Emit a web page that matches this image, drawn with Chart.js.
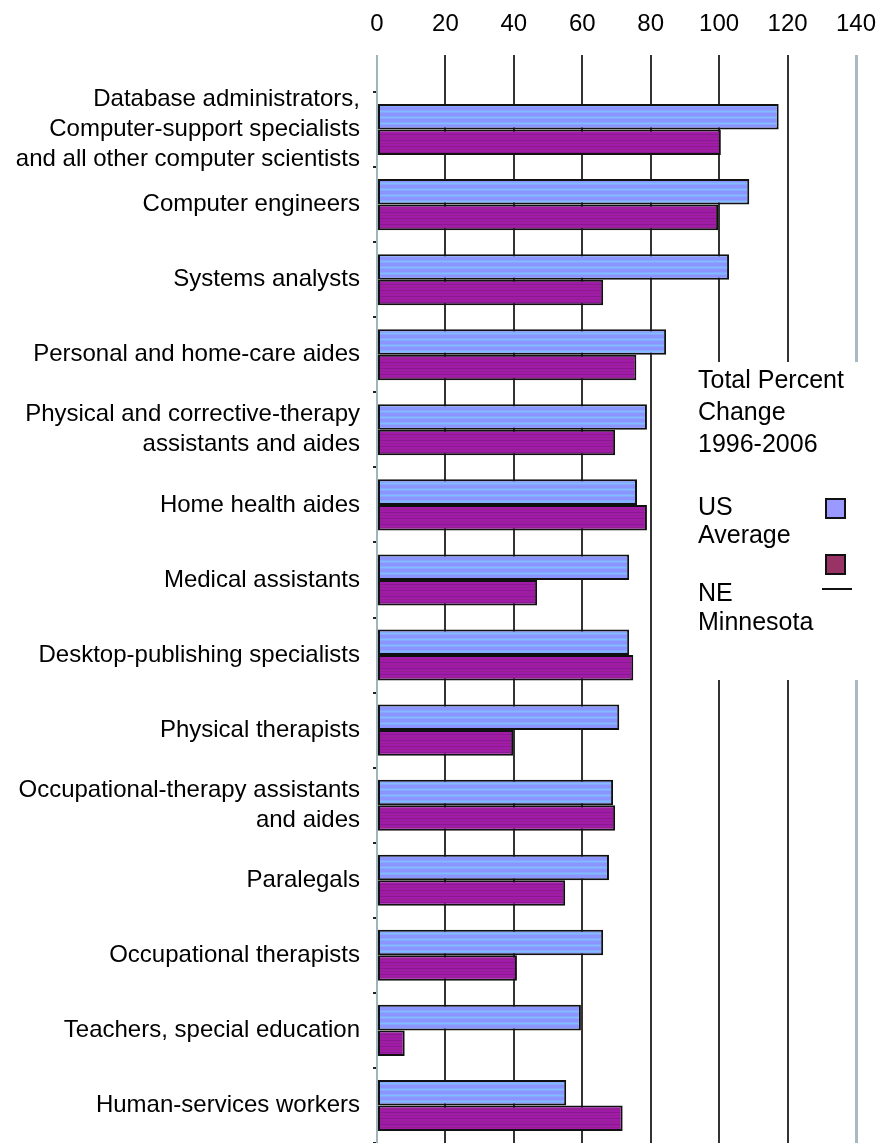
<!DOCTYPE html>
<html>
<head>
<meta charset="utf-8">
<script src="https://cdn.jsdelivr.net/npm/chart.js@4/dist/chart.umd.min.js"></script>
<style>
  html, body { margin: 0; padding: 0; background: #fff; overflow: hidden; }
  #wrap { width: 889px; height: 1143px; position: relative; }
</style>
</head>
<body>
<div id="wrap"><canvas id="c" width="889" height="1143"></canvas></div>
<script>
const categories = [
  ["Database administrators,", "Computer-support specialists", "and all other computer scientists"],
  "Computer engineers",
  "Systems analysts",
  "Personal and home-care aides",
  ["Physical and corrective-therapy", "assistants and aides"],
  "Home health aides",
  "Medical assistants",
  "Desktop-publishing specialists",
  "Physical therapists",
  ["Occupational-therapy assistants", "and aides"],
  "Paralegals",
  "Occupational therapists",
  "Teachers, special education",
  "Human-services workers"
];
const usAverage   = [117.4, 108.8, 102.9, 84.5, 78.9, 76.0, 73.7, 73.7, 70.8, 69.0, 67.8, 66.1, 59.6, 55.3];
const neMinnesota = [100.5, 99.7, 66.1, 75.8, 69.6, 78.9, 46.8, 74.9, 39.8, 69.6, 55.0, 40.9, 8.1, 71.8];
const xTicks = [0, 20, 40, 60, 80, 100, 120, 140];
const legendTitle = ["Total Percent", "Change", "1996-2006"];
const seriesNames = [["US", "Average"], ["NE", "Minnesota"]];

function makePattern(colors) {
  const pc = document.createElement('canvas');
  pc.width = 4; pc.height = colors.length;
  const g = pc.getContext('2d');
  colors.forEach((col, i) => { g.fillStyle = col; g.fillRect(0, i, 4, 1); });
  return document.getElementById('c').getContext('2d').createPattern(pc, 'repeat');
}
const usFill = makePattern(['#8c94ff', '#8c94ff', '#86a8ff', '#80bcff', '#86a8ff', '#8c94ff']);
const neFill = makePattern(['#a01ca8', '#a01ca8', '#8a1890', '#a01ca8', '#a01ca8', '#96208e']);

const FONT = '"Liberation Sans", Arial, Helvetica, sans-serif';

const legendPlugin = {
  id: 'boxLegend',
  afterDraw(chart) {
    const ctx = chart.ctx;
    ctx.save();
    ctx.fillStyle = '#fff';
    ctx.fillRect(688, 362, 184, 318);
    ctx.fillStyle = '#000';
    ctx.font = '25px ' + FONT;
    ctx.textBaseline = 'alphabetic';
    ctx.textAlign = 'left';
    const x = 698;
    [388, 420, 452].forEach((y, i) => ctx.fillText(legendTitle[i], x, y));
    ctx.fillText(seriesNames[0][0], x, 515);
    ctx.fillText(seriesNames[0][1], x, 543);
    ctx.fillText(seriesNames[1][0], x, 601);
    ctx.fillText(seriesNames[1][1], x, 630);
    ctx.lineWidth = 2;
    ctx.strokeStyle = '#111';
    ctx.fillStyle = '#9999ff';
    ctx.fillRect(826, 499, 19, 19); ctx.strokeRect(826, 499, 19, 19);
    ctx.fillStyle = '#993366';
    ctx.fillRect(826, 555, 19, 19); ctx.strokeRect(826, 555, 19, 19);
    ctx.beginPath(); ctx.moveTo(822, 589); ctx.lineTo(852, 589); ctx.stroke();
    ctx.restore();
  }
};

new Chart(document.getElementById('c'), {
  type: 'bar',
  data: {
    labels: categories,
    datasets: [
      { label: 'US Average', data: usAverage, backgroundColor: usFill, borderColor: '#111', borderWidth: 2, borderSkipped: false },
      { label: 'NE Minnesota', data: neMinnesota, backgroundColor: neFill, borderColor: '#111', borderWidth: 2, borderSkipped: false }
    ]
  },
  options: {
    indexAxis: 'y',
    responsive: false,
    animation: false,
    layout: { padding: { left: 0, right: 33, top: 0, bottom: 0 } },
    datasets: { bar: { categoryPercentage: 0.68, barPercentage: 1.0 } },
    plugins: { legend: { display: false }, tooltip: { enabled: false }, title: { display: false } },
    scales: {
      x: {
        position: 'top',
        min: 0, max: 140,
        afterBuildTicks(scale) { scale.ticks = xTicks.map(v => ({ value: v })); },
        afterFit(scale) { scale.height = 92; scale.paddingLeft = 0; scale.paddingRight = 0; },
        ticks: { color: '#000', font: { family: FONT, size: 24 }, padding: 16, maxRotation: 0, autoSkip: false },
        grid: {
          tickLength: 37,
          color: (c) => c.tick && c.tick.value === 140 ? '#a6bac2' : (c.tick && c.tick.value === 0 ? '#9fb4bc' : '#333'),
          lineWidth: (c) => c.tick && c.tick.value === 140 ? 3 : 2
        },
        border: { display: false }
      },
      y: {
        afterFit(scale) { scale.width = 377; scale.paddingTop = 0; scale.paddingBottom = 0; },
        ticks: { color: '#000', font: { family: FONT, size: 24, lineHeight: 1.25 }, padding: 13, autoSkip: false },
        grid: { drawOnChartArea: false, tickLength: 4, color: '#222', lineWidth: 2 },
        border: { display: true, color: '#9fb4bc', width: 2 }
      }
    }
  },
  plugins: [legendPlugin]
});
</script>
</body>
</html>
